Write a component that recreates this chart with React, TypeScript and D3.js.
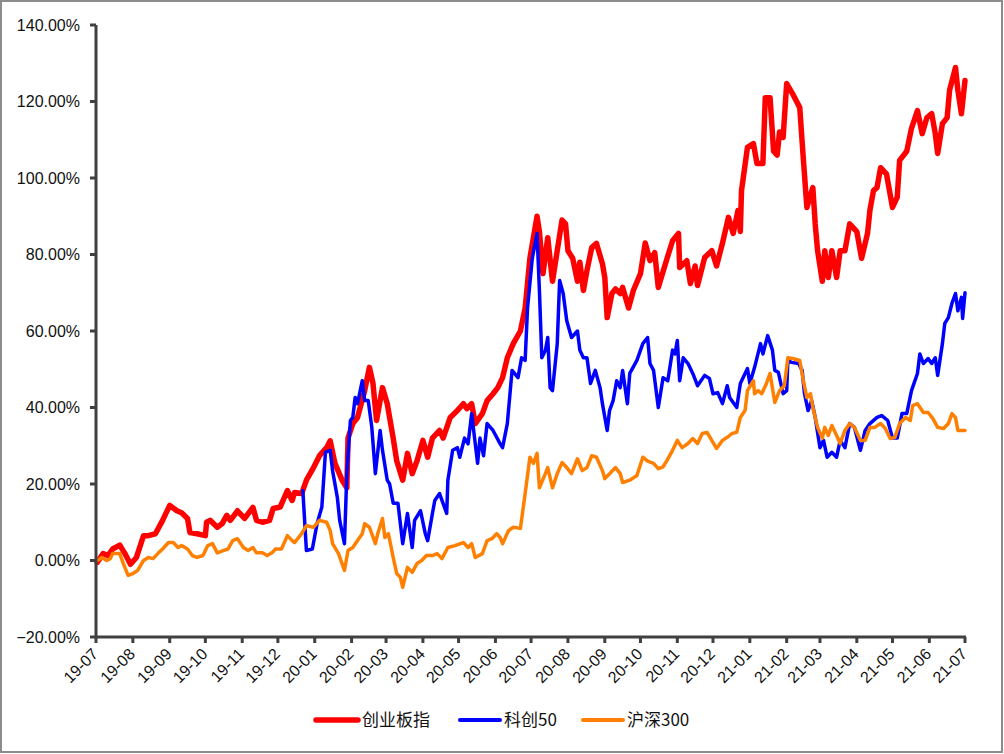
import React from "react";
import * as d3 from "d3";

// cumulative return (%) of each index, as [days since 2019-07-01, value]
const cybPoints: [number, number][] = [
  [1, -0.5], [6, 1.8], [10, 1.3], [14, 3], [20, 4], [24, 2], [29, -1], [34, 0.8], [40, 6.5], [44, 6.5],
  [50, 7], [56, 10.5], [62, 14.4], [68, 13], [72, 12.5], [77, 11], [79, 7.3], [85, 7], [92, 6.5], [93, 10],
  [96, 10.5], [102, 8.7], [106, 9.6], [110, 11.8], [113, 10.5], [119, 13], [125, 11], [132, 13.9], [135, 10.5], [140, 10],
  [146, 10.5], [149, 13.6], [155, 14], [161, 18.3], [165, 15.7], [167, 17.8], [173, 17.5], [177, 21], [183, 24.3], [188, 27.4],
  [194, 29.5], [197, 31.3], [201, 25.4], [207, 21], [211, 19], [212, 32], [216, 35.8], [220, 37.4], [226, 44.4], [230, 50.5],
  [233, 46.3], [236, 36.6], [241, 45.2], [245, 41], [250, 32], [253, 26], [258, 21], [262, 28], [266, 22.7], [270, 26],
  [275, 31.4], [279, 27], [283, 32], [289, 34], [292, 32], [298, 37.4], [304, 39.2], [309, 41], [312, 39.7], [316, 41],
  [319, 35.8], [325, 38.4], [329, 41.8], [334, 43.6], [338, 45.2], [342, 47.8], [346, 53], [351, 56.7], [357, 60], [361, 66],
  [365, 79], [371, 90], [373, 86], [376, 75], [380, 84.4], [384, 73], [388, 81], [392, 89], [395, 88], [397, 81],
  [401, 79], [405, 73], [407, 78], [410, 70.6], [413, 75.8], [417, 81.8], [421, 82.9], [426, 77.6], [428, 74], [430, 63.5],
  [434, 69.8], [437, 71], [441, 69.8], [443, 71.4], [448, 66], [452, 70.6], [458, 75], [462, 83], [466, 78.4], [470, 80.5],
  [473, 71.4], [479, 77.6], [485, 83.6], [490, 85.5], [491, 76.6], [497, 78.4], [500, 72.4], [504, 77], [506, 71.9], [512, 79.2],
  [518, 81], [522, 77], [527, 83], [532, 89.7], [536, 85.5], [540, 91.5], [542, 86], [543, 96.7], [548, 108], [553, 109],
  [556, 103.8], [561, 103.8], [563, 121], [567, 121], [570, 107], [573, 106], [575, 112], [578, 110.6], [581, 124.7], [586, 122],
  [592, 118.4], [595, 105], [598, 92.3], [603, 97.5], [605, 88], [607, 81], [611, 73], [613, 81], [616, 74], [619, 81],
  [623, 74], [626, 81], [630, 81], [634, 88], [640, 86], [644, 79], [649, 85.5], [651, 91.5], [654, 96.7], [657, 97.5],
  [660, 102.7], [665, 101], [670, 92.3], [674, 95], [676, 104.6], [682, 107], [686, 113], [691, 117.6], [695, 111.6], [699, 115.8],
  [703, 116.8], [706, 111.6], [708, 106.4], [712, 114.2], [716, 115.8], [718, 122.9], [723, 128.9], [725, 122.9], [728, 116.8], [731, 125.5],
];

const kc50Points: [number, number][] = [
  [174, 18.3], [177, 2.6], [182, 3], [186, 9.7], [190, 14], [193, 28.3], [197, 28.8], [199, 23.5], [203, 16.5], [205, 10.5],
  [209, 4.4], [211, 22.7], [214, 36.6], [216, 37.4], [218, 42.6], [220, 41], [224, 47], [226, 41.8], [229, 41.8], [232, 34.8],
  [235, 22.7], [239, 34], [241, 28.8], [245, 21], [247, 20], [250, 15], [254, 15], [258, 4.4], [262, 12.3], [266, 3.4],
  [268, 10.5], [273, 13], [277, 7], [279, 5.2], [283, 12.3], [285, 15.7], [289, 17.5], [295, 12.3], [296, 21], [300, 28.8],
  [304, 29.5], [306, 27], [310, 32], [313, 30.5], [316, 38.4], [321, 25.4], [323, 32], [326, 27.4], [329, 35.8], [334, 34],
  [340, 30.5], [342, 29.5], [346, 35.8], [350, 49.7], [355, 47.8], [358, 53], [361, 52.3], [363, 66], [367, 79], [371, 85.5],
  [373, 70.6], [375, 53], [378, 54.9], [380, 58.3], [382, 45.2], [384, 44.4], [388, 56.7], [390, 73.2], [393, 69.8], [396, 62.7],
  [400, 58.3], [405, 60], [407, 55], [410, 53], [413, 53], [416, 46.3], [420, 49.7], [424, 45.2], [426, 41], [430, 34],
  [432, 39.2], [435, 41.8], [438, 47], [441, 45.2], [443, 49.7], [447, 41], [449, 48.9], [455, 52.3], [460, 56.7], [464, 58.3],
  [466, 51.5], [469, 49.7], [473, 40], [477, 47.8], [481, 47], [485, 55], [487, 54], [489, 57.5], [491, 47], [494, 53],
  [498, 51.5], [502, 48.9], [506, 45.7], [512, 48.4], [516, 47.6], [519, 43.6], [523, 43.9], [527, 41], [531, 45.7], [533, 42.6],
  [539, 40], [542, 46.3], [548, 50.2], [550, 46.3], [554, 50.5], [559, 56.7], [561, 54], [565, 58.8], [569, 55], [571, 49.7],
  [574, 49.2], [578, 43.6], [581, 44.4], [582, 52.3], [585, 51.8], [591, 51.5], [594, 49.7], [596, 43.6], [599, 39.2], [602, 41.8],
  [605, 37.4], [609, 29.5], [612, 31.4], [615, 27], [619, 28.3], [623, 27], [626, 31.4], [630, 29.5], [634, 35.8], [638, 34.8],
  [643, 28.8], [647, 34], [651, 35.8], [657, 37.4], [661, 37.9], [666, 36.6], [670, 32], [674, 32], [678, 38.4], [682, 38.4],
  [686, 44.4], [691, 48.9], [693, 54], [696, 51.5], [700, 52.8], [703, 51.5], [706, 53], [708, 48.4], [712, 56.7], [714, 62],
  [717, 63.5], [720, 67.2], [723, 69.8], [725, 65.3], [728, 68.8], [729, 63.3], [731, 70],
];

const hs300Points: [number, number][] = [
  [1, 0], [5, 0.8], [9, 0], [12, 0.5], [14, 1.8], [20, 1.8], [23, -0.8], [27, -3.9], [31, -3.4], [35, -2.6],
  [40, 0], [44, 0.8], [48, 0.5], [52, 1.8], [56, 3], [61, 4.7], [65, 4.7], [69, 3.4], [72, 3.9], [77, 3],
  [81, 1.3], [85, 0.8], [90, 1.3], [94, 3.9], [98, 4.4], [102, 2], [107, 2.6], [111, 3], [115, 5.2], [119, 5.7],
  [124, 3.4], [128, 2.6], [132, 3.4], [135, 2], [140, 2], [144, 1.3], [148, 2], [151, 3], [156, 3], [161, 6.5],
  [165, 5.2], [167, 4.7], [173, 7], [177, 9.1], [183, 8.7], [188, 10.5], [194, 10], [197, 7.8], [199, 4.4], [204, 1.8],
  [209, -2.6], [212, 2.6], [216, 3.4], [220, 5.2], [224, 7], [226, 9.6], [230, 8.7], [235, 4.4], [237, 7], [241, 11],
  [243, 6], [246, 7], [250, 0.8], [253, -3.4], [256, -4.4], [258, -7], [262, -1.8], [266, -3.1], [270, -0.8], [274, 0],
  [278, 1.3], [283, 1.3], [287, 1.8], [291, 0.5], [296, 3.4], [302, 3.9], [309, 4.7], [313, 3.4], [316, 4.4], [319, 0.8],
  [325, 1.8], [329, 5.2], [333, 5.7], [337, 7], [340, 6], [342, 4.4], [347, 7.8], [351, 8.7], [357, 8.4], [361, 17.5],
  [365, 27], [368, 25.4], [371, 28], [373, 19], [378, 22.7], [380, 24.3], [384, 19], [388, 22.7], [392, 25.6], [396, 24.3],
  [400, 22.7], [405, 26.6], [409, 23.5], [413, 24.3], [417, 27.4], [421, 27], [426, 23.5], [428, 21.4], [432, 22.7], [437, 24.3],
  [441, 22.7], [443, 20.4], [449, 21], [455, 22.2], [460, 27], [464, 26], [469, 25.4], [473, 24], [477, 24.5], [480, 26],
  [485, 28.8], [489, 31.4], [493, 29.5], [498, 30.6], [502, 31.9], [506, 30.6], [510, 33.2], [514, 33.5], [518, 31.4], [522, 29.3],
  [527, 31.4], [531, 32.2], [535, 33.2], [539, 33.5], [542, 37.4], [546, 39.2], [548, 44.4], [553, 47], [554, 43.6], [557, 44.4],
  [560, 43.6], [564, 46.3], [567, 48.9], [571, 41.3], [575, 44.4], [579, 45.7], [582, 53], [586, 52.8], [592, 52.3], [595, 47],
  [598, 42.6], [601, 43.6], [603, 40], [607, 34.8], [611, 32], [613, 34.8], [616, 32.7], [619, 35.3], [623, 32.7], [626, 30.6],
  [630, 34], [634, 35.8], [638, 34.8], [643, 31.4], [647, 31.4], [651, 34.8], [655, 34.8], [660, 35.8], [664, 34.5], [668, 31.9],
  [672, 32.2], [676, 35.8], [681, 37.4], [685, 36.6], [687, 40.5], [691, 41], [696, 38.7], [700, 38.7], [704, 37.1], [708, 34.8],
  [713, 34.5], [717, 35.8], [720, 38.4], [723, 37.4], [725, 34], [728, 34], [731, 34],
];

const seriesNames = ["创业板指", "科创50", "沪深300"];
const seriesColors = ["#ff0000", "#0000ff", "#ff8000"];
const seriesWidths = [5.5, 3.5, 3.5];
const yTicks = [-20, 0, 20, 40, 60, 80, 100, 120, 140];

const startDate = new Date(2019, 6, 1);
const endDate = new Date(2021, 6, 1);

const W = 1004;
const H = 754;
const margin = { top: 25, right: 39, bottom: 117, left: 96 };

export default function App() {
  const x = d3.scaleTime().domain([startDate, endDate]).range([margin.left, W - margin.right]);
  const y = d3.scaleLinear().domain([-20, 140]).range([H - margin.bottom, margin.top]);

  const line = d3
    .line<[number, number]>()
    .x((d) => x(d3.timeDay.offset(startDate, d[0])))
    .y((d) => y(d[1]));

  const allSeries = [cybPoints, kc50Points, hs300Points];
  const months = d3.timeMonth.range(startDate, d3.timeDay.offset(endDate, 1));
  const fmtMonth = d3.timeFormat("%y-%m");
  const fmtPct = (v: number) => d3.format(".2f")(v) + "%";

  const axisColor = "#404040";
  const font = "'Liberation Sans', Arial, sans-serif";
  const x0 = margin.left;
  const yBottom = H - margin.bottom;

  // legend layout
  const legendY = 720;
  const legendX = [314, 458, 581];

  return (
    <div style={{ position: "absolute", left: 0, top: 0 }}>
      <svg width={W} height={H} style={{ display: "block", background: "#fff" }}>
        <rect x={1} y={1} width={W - 3} height={H - 3} fill="#fff" stroke="#8c8c8c" strokeWidth={2} />

        {/* series */}
        {allSeries.map((s, i) => (
          <path
            key={seriesNames[i]}
            d={line(s) || ""}
            fill="none"
            stroke={seriesColors[i]}
            strokeWidth={seriesWidths[i]}
            strokeLinejoin="round"
            strokeLinecap="round"
          />
        ))}

        {/* y axis */}
        <line x1={x0} x2={x0} y1={y(140)} y2={yBottom} stroke={axisColor} strokeWidth={3} />
        {yTicks.map((t) => (
          <g key={t}>
            <line x1={x0 - 6} x2={x0} y1={y(t)} y2={y(t)} stroke={axisColor} strokeWidth={3} />
            <text
              x={80}
              y={y(t)}
              dy="0.36em"
              textAnchor="end"
              fontFamily={font}
              fontSize={16}
              fill="#111"
            >
              {fmtPct(t)}
            </text>
          </g>
        ))}

        {/* x axis */}
        <line x1={x0 - 1} x2={x(endDate) + 1} y1={yBottom} y2={yBottom} stroke={axisColor} strokeWidth={3} />
        {months.map((m) => (
          <g key={m.getTime()}>
            <line x1={x(m)} x2={x(m)} y1={yBottom} y2={yBottom + 6} stroke={axisColor} strokeWidth={3} />
            <text
              transform={`translate(${x(m) - 1},${yBottom + 14}) rotate(-45)`}
              dy="0.36em"
              textAnchor="end"
              fontFamily={font}
              fontSize={16}
              fill="#111"
            >
              {fmtMonth(m)}
            </text>
          </g>
        ))}

        {/* legend */}
        {seriesNames.map((name, i) => (
          <g key={name} transform={`translate(${legendX[i]},${legendY})`}>
            <line x1={2} x2={i === 0 ? 44 : 42} y1={0} y2={0} stroke={seriesColors[i]} strokeWidth={i === 0 ? 5.5 : 4} strokeLinecap="round" />
            <text
              x={i === 0 ? 48 : 46}
              y={0}
              dy="0.36em"
              fontFamily="'Noto Sans CJK SC', sans-serif"
              fontSize={17}
              fill="#111"
            >
              {name}
            </text>
          </g>
        ))}
      </svg>
    </div>
  );
}
